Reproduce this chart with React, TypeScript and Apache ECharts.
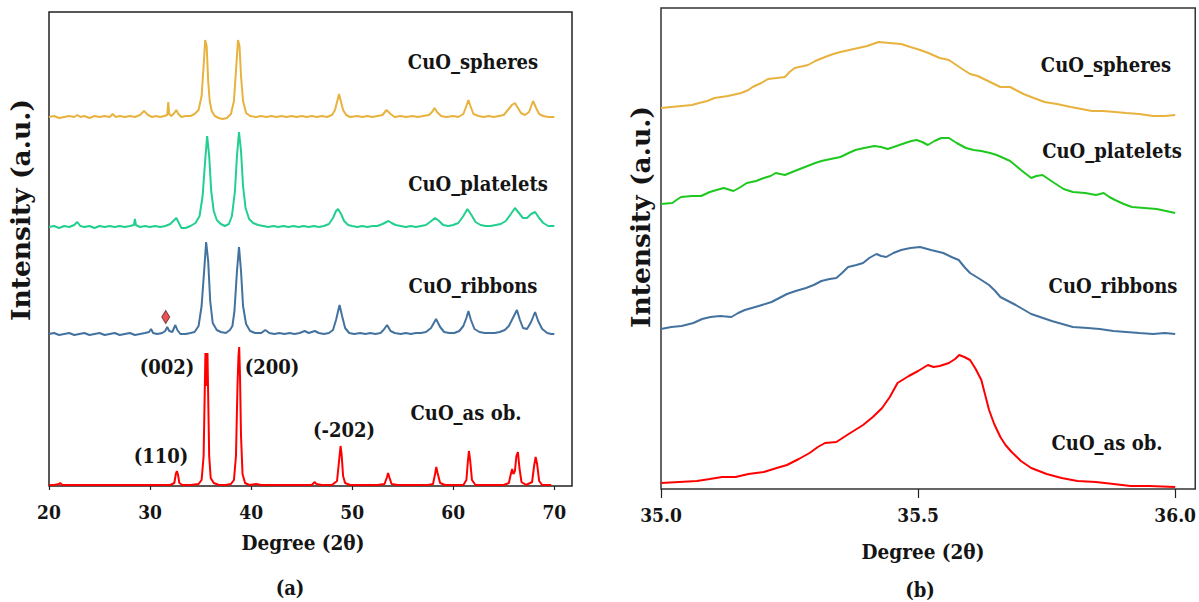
import React, { useEffect, useRef } from "react";
import * as echarts from "echarts";

type P = [number, number];

const ticksA = [20, 30, 40, 50, 60, 70];
const ticksB = [35.0, 35.5, 36.0];

const spheresA: P[] = [[20.0,369],[20.5,370],[21.0,368],[21.5,369],[22.0,370],[22.5,369],[22.8,371],[23.1,369],[23.5,370],[24.0,368],[24.5,370],[25.0,369],[25.5,370],[26.0,369],[26.3,372],[26.6,369],[27.0,370],[27.5,369],[28.0,370],[28.5,369],[29.0,371],[29.4,375],[29.8,371],[30.2,369],[30.6,370],[31.0,369],[31.4,370],[31.7,371],[31.8,384],[31.9,372],[32.1,370],[32.4,373],[32.6,376],[32.8,372],[33.1,369],[33.5,370],[34.0,370],[34.4,372],[34.8,376],[35.1,390],[35.3,420],[35.45,446],[35.6,440],[35.75,405],[35.9,385],[36.1,375],[36.4,370],[36.8,368],[37.2,367],[37.6,368],[38.0,372],[38.3,385],[38.5,415],[38.7,446],[38.85,440],[39.0,410],[39.2,385],[39.5,373],[39.9,370],[40.5,369],[41.0,370],[41.5,369],[42.0,370],[42.5,369],[43.0,370],[43.5,369],[44.0,370],[44.5,369],[45.0,370],[45.5,369],[46.0,370],[46.5,369],[47.0,370],[47.5,369],[48.0,371],[48.3,376],[48.55,386],[48.7,392],[48.85,386],[49.1,376],[49.4,371],[49.8,369],[50.5,370],[51.0,369],[51.5,370],[52.0,369],[52.5,370],[53.0,371],[53.4,376],[53.8,372],[54.2,369],[54.8,370],[55.3,369],[56.0,370],[56.5,369],[57.0,370],[57.6,371],[57.9,374],[58.15,378],[58.4,374],[58.8,370],[59.3,369],[60.0,370],[60.5,369],[61.0,372],[61.3,380],[61.5,386],[61.7,380],[62.0,372],[62.5,370],[63.0,369],[63.5,370],[64.0,369],[64.5,370],[65.0,371],[65.4,376],[65.8,381],[66.1,383],[66.4,378],[66.7,373],[67.1,371],[67.5,374],[67.9,385],[68.2,378],[68.5,372],[68.9,370],[69.4,369],[70.0,369]];

const plateletsA: P[] = [[20.0,259],[20.5,260],[21.0,258],[21.5,260],[22.0,259],[22.5,261],[22.8,264],[23.1,260],[23.5,259],[24.0,260],[24.5,258],[25.0,260],[25.5,259],[26.0,260],[26.5,259],[27.0,260],[27.5,259],[28.0,260],[28.4,261],[28.5,267],[28.6,261],[29.0,259],[29.5,260],[30.0,259],[30.5,260],[31.0,259],[31.5,260],[32.0,262],[32.4,266],[32.6,268],[32.8,264],[33.1,258],[33.5,258],[34.0,260],[34.5,263],[34.9,270],[35.2,290],[35.45,325],[35.65,350],[35.85,330],[36.05,295],[36.3,275],[36.6,266],[37.0,262],[37.4,260],[37.8,262],[38.1,270],[38.4,295],[38.6,330],[38.8,354],[39.0,335],[39.2,300],[39.45,278],[39.8,267],[40.2,263],[40.7,261],[41.2,260],[41.7,259],[42.2,260],[42.7,259],[43.2,260],[43.7,259],[44.2,260],[44.7,259],[45.2,260],[45.7,259],[46.2,260],[46.7,259],[47.2,260],[47.7,262],[48.1,268],[48.4,275],[48.6,277],[48.9,272],[49.2,265],[49.6,261],[50.0,260],[50.5,259],[51.0,260],[51.5,259],[52.0,260],[52.5,260],[53.0,262],[53.4,264],[53.6,265],[53.9,263],[54.3,261],[54.8,260],[55.3,259],[55.8,260],[56.3,259],[56.8,260],[57.3,261],[57.7,264],[58.2,268],[58.6,265],[59.0,261],[59.5,260],[60.0,261],[60.5,263],[61.0,270],[61.4,277],[61.8,271],[62.2,264],[62.7,261],[63.2,260],[63.7,260],[64.2,261],[64.7,262],[65.2,265],[65.7,272],[66.1,278],[66.5,273],[66.9,268],[67.3,268],[67.7,272],[68.1,274],[68.5,268],[68.9,263],[69.4,260],[70.0,260]];

const ribbonsA: P[] = [[20.0,152],[20.5,153],[21.0,151],[21.5,152],[22.0,153],[22.5,151],[23.0,152],[23.5,153],[24.0,151],[24.5,152],[25.0,153],[25.5,151],[26.0,152],[26.5,153],[27.0,151],[27.5,152],[28.0,153],[28.5,151],[29.0,152],[29.5,153],[29.9,154],[30.1,157],[30.3,153],[30.7,152],[31.2,153],[31.5,155],[31.7,159],[31.9,155],[32.2,154],[32.5,161],[32.7,156],[33.0,152],[33.5,152],[34.0,153],[34.4,154],[34.8,160],[35.1,180],[35.35,215],[35.55,244],[35.75,225],[35.95,185],[36.2,163],[36.6,156],[37.0,154],[37.5,153],[37.9,156],[38.15,160],[38.35,175],[38.6,215],[38.8,239],[39.0,215],[39.2,180],[39.5,162],[39.9,155],[40.4,153],[41.0,153],[41.4,156],[41.8,153],[42.3,152],[42.8,153],[43.3,152],[43.8,153],[44.3,152],[44.8,153],[45.3,155],[45.7,153],[46.3,155],[46.7,153],[47.2,152],[47.7,153],[48.1,156],[48.4,166],[48.75,181],[49.0,170],[49.3,158],[49.7,153],[50.2,152],[50.8,153],[51.3,152],[51.8,153],[52.3,152],[52.8,153],[53.1,156],[53.45,161],[53.8,155],[54.2,153],[54.8,152],[55.3,153],[55.8,152],[56.3,153],[56.8,153],[57.3,154],[57.8,158],[58.3,167],[58.7,159],[59.1,154],[59.6,153],[60.1,153],[60.6,155],[61.0,160],[61.3,168],[61.5,175],[61.75,166],[62.1,157],[62.6,154],[63.1,153],[63.6,153],[64.1,153],[64.6,154],[65.1,156],[65.5,160],[65.9,168],[66.3,176],[66.6,166],[66.9,158],[67.3,157],[67.7,164],[68.1,174],[68.4,165],[68.8,157],[69.3,153],[69.7,152],[70.0,152]];

const asObA: P[] = [[20.0,1],[20.5,1],[21.0,2],[21.1,3],[21.3,1],[22.0,1],[23.0,1],[24.0,1],[25.0,1],[26.0,1],[27.0,1],[28.0,1],[29.0,1],[30.0,1],[31.0,1],[32.0,1],[32.4,3],[32.55,12],[32.65,15],[32.75,12],[32.9,3],[33.2,1],[34.0,1],[34.8,2],[35.1,6],[35.3,30],[35.42,100],[35.48,133],[35.55,100],[35.62,110],[35.68,133],[35.75,90],[35.85,30],[36.0,8],[36.3,3],[36.8,1],[37.5,1],[38.0,2],[38.3,6],[38.5,30],[38.65,100],[38.75,130],[38.82,139],[38.9,110],[39.0,50],[39.15,12],[39.4,3],[39.8,1],[40.5,2],[41.0,1],[42.0,1],[43.0,1],[44.0,1],[45.0,1],[46.0,1],[46.2,3],[46.3,4],[46.45,2],[47.0,1],[48.0,1],[48.5,5],[48.7,25],[48.85,40],[48.95,32],[49.1,10],[49.3,3],[49.8,1],[50.5,1],[51.5,1],[52.5,1],[53.2,2],[53.45,9],[53.55,13],[53.7,8],[53.9,2],[54.5,1],[55.5,1],[56.5,1],[57.5,1],[58.0,2],[58.2,12],[58.32,19],[58.45,13],[58.7,3],[59.2,1],[60.0,1],[61.0,1],[61.3,6],[61.45,25],[61.55,35],[61.68,25],[61.85,6],[62.2,1],[63.0,1],[64.0,1],[65.0,1],[65.5,3],[65.7,12],[65.83,17],[65.95,12],[66.1,15],[66.25,30],[66.4,34],[66.55,18],[66.75,4],[67.2,1],[67.8,4],[68.0,20],[68.15,29],[68.3,22],[68.5,5],[68.8,1],[69.4,1],[69.7,1]];

const impurityA: P[] = [[31.55, 169]];

const spheresB: P[] = [[35.000,381],[35.020,382],[35.040,383],[35.060,384],[35.074,386],[35.090,388],[35.104,391],[35.130,393],[35.156,396],[35.170,399],[35.178,402],[35.195,406],[35.208,410],[35.225,411],[35.241,412],[35.250,417],[35.260,421],[35.286,424],[35.300,428],[35.319,432],[35.335,435],[35.349,437],[35.375,440],[35.401,443],[35.412,445],[35.423,447],[35.445,446],[35.467,445],[35.485,442],[35.504,439],[35.520,436],[35.542,431],[35.560,429],[35.580,422],[35.601,415],[35.616,413],[35.640,407],[35.660,402],[35.679,402],[35.690,399],[35.705,395],[35.725,391],[35.746,387],[35.770,385],[35.797,382],[35.818,380],[35.838,378],[35.860,378],[35.883,377],[35.905,376],[35.930,375],[35.957,373],[35.980,373],[36.000,374]];

const plateletsB: P[] = [[35.000,285],[35.022,286],[35.030,289],[35.039,292],[35.060,293],[35.078,293],[35.095,297],[35.108,299],[35.122,301],[35.141,298],[35.155,302],[35.167,306],[35.185,308],[35.200,311],[35.213,313],[35.223,316],[35.241,314],[35.260,318],[35.280,322],[35.300,326],[35.312,328],[35.330,330],[35.349,332],[35.365,336],[35.378,339],[35.395,341],[35.415,343],[35.428,342],[35.441,340],[35.458,343],[35.475,346],[35.487,348],[35.497,349],[35.508,347],[35.519,344],[35.532,348],[35.545,351],[35.560,351],[35.575,346],[35.593,341],[35.608,339],[35.623,338],[35.640,336],[35.653,334],[35.666,331],[35.679,328],[35.700,319],[35.720,311],[35.730,313],[35.742,314],[35.762,307],[35.783,300],[35.801,297],[35.825,296],[35.846,294],[35.861,296],[35.872,292],[35.883,289],[35.900,285],[35.916,282],[35.940,281],[35.964,280],[35.982,278],[36.000,276]];

const ribbonsB: P[] = [[35.000,160],[35.020,162],[35.040,163],[35.063,166],[35.080,170],[35.096,172],[35.115,173],[35.137,172],[35.150,176],[35.163,179],[35.190,183],[35.215,187],[35.230,191],[35.245,195],[35.262,198],[35.282,201],[35.297,204],[35.312,208],[35.328,210],[35.341,211],[35.352,216],[35.364,222],[35.380,224],[35.393,226],[35.405,231],[35.419,235],[35.428,233],[35.438,232],[35.452,236],[35.467,239],[35.485,241],[35.504,242],[35.525,239],[35.549,236],[35.565,232],[35.579,229],[35.590,222],[35.601,216],[35.620,210],[35.638,204],[35.650,198],[35.660,192],[35.690,184],[35.720,175],[35.760,168],[35.801,162],[35.830,161],[35.853,160],[35.880,158],[35.905,157],[35.930,156],[35.957,155],[35.980,156],[36.000,155]];

const asObB: P[] = [[35.000,6],[35.035,7],[35.070,8],[35.095,10],[35.119,12],[35.145,12],[35.170,15],[35.200,17],[35.225,21],[35.245,24],[35.268,30],[35.289,36],[35.305,42],[35.319,46],[35.341,47],[35.365,55],[35.393,64],[35.412,72],[35.430,81],[35.445,92],[35.460,106],[35.482,113],[35.500,118],[35.519,124],[35.530,122],[35.542,123],[35.560,126],[35.572,130],[35.580,134],[35.590,132],[35.601,129],[35.612,120],[35.623,109],[35.630,95],[35.638,79],[35.648,65],[35.660,52],[35.670,44],[35.682,37],[35.700,28],[35.720,21],[35.750,15],[35.779,11],[35.810,8],[35.846,7],[35.880,5],[35.913,3],[35.950,3],[36.000,2]];

const FONT = "'DejaVu Serif Condensed', 'Liberation Serif', serif";
const FONT_WIDE = "'DejaVu Serif', serif";
const INK = "#141414";

export default function App() {
  const ref = useRef<HTMLDivElement>(null);
  useEffect(() => {
    const chart = echarts.init(ref.current!, null, { renderer: "svg" });
    const txt = (x: number, y: number, text: string, size = 20, rotation = 0, family = FONT) => ({
      type: "text",
      x,
      y,
      rotation,
      z: 100,
      style: {
        text,
        fill: INK,
        fontFamily: family,
        fontWeight: "bold",
        fontSize: size,
        textAlign: "center",
        textVerticalAlign: "middle",
      },
    });
    const line = (data: P[], color: string, idx: number) => ({
      type: "line",
      data,
      xAxisIndex: idx,
      yAxisIndex: idx,
      showSymbol: false,
      symbol: "none",
      lineStyle: { color, width: 2 },
      itemStyle: { color },
      z: 3,
    });
    const xAxisBase = (idx: number, min: number, max: number, ticks: number[], tickLen: number, fmt: (v: number) => string) => ({
      type: "value",
      gridIndex: idx,
      min,
      max,
      axisLine: { show: false },
      splitLine: { show: false },
      axisTick: { show: true, customValues: ticks, length: tickLen, lineStyle: { color: "#222", width: 1.2 } },
      axisLabel: {
        customValues: ticks,
        formatter: fmt,
        color: INK,
        fontFamily: FONT,
        fontWeight: "bold",
        fontSize: 19,
        margin: 16,
      },
    });
    chart.setOption({
      animation: false,
      backgroundColor: "#ffffff",
      grid: [
        { left: 49, top: 12, width: 523, height: 474, show: true, borderColor: "#222", borderWidth: 1.5, backgroundColor: "transparent" },
        { left: 661, top: 8, width: 535, height: 481, show: true, borderColor: "#333", borderWidth: 1.5, backgroundColor: "transparent" },
      ],
      xAxis: [
        xAxisBase(0, 20, 71.75, ticksA, 4, (v: number) => String(Math.round(v))),
        xAxisBase(1, 35, 36.039, ticksB, 9, (v: number) => v.toFixed(1)),
      ],
      yAxis: [
        { type: "value", gridIndex: 0, min: 0, max: 474, show: false },
        { type: "value", gridIndex: 1, min: 0, max: 481, show: false },
      ],
      series: [
        line(spheresA, "#E8B23E", 0),
        line(plateletsA, "#22CF8F", 0),
        line(ribbonsA, "#44729F", 0),
        line(asObA, "#FF0000", 0),
        {
          type: "scatter",
          data: impurityA,
          xAxisIndex: 0,
          yAxisIndex: 0,
          symbol: "diamond",
          symbolSize: [8, 13],
          itemStyle: { color: "#E8262A", borderColor: "#5a2a2a", borderWidth: 1 },
          z: 5,
        },
        line(spheresB, "#E8B23E", 1),
        line(plateletsB, "#1FC81F", 1),
        line(ribbonsB, "#44729F", 1),
        line(asObB, "#FF0000", 1),
      ],
      graphic: [
        txt(473, 62, "CuO_spheres"),
        txt(478, 184, "CuO_platelets"),
        txt(473, 286, "CuO_ribbons"),
        txt(466, 413, "CuO_as ob."),
        txt(167, 367, "(002)"),
        txt(272, 367, "(200)"),
        txt(344, 430, "(-202)"),
        txt(161, 456, "(110)"),
        txt(303, 543, "Degree (2θ)", 20.5),
        txt(290, 588, "(a)"),
        txt(20, 210, "Intensity (a.u.)", 26.5, Math.PI / 2, FONT_WIDE),
        txt(1106, 65, "CuO_spheres"),
        txt(1112, 151, "CuO_platelets"),
        txt(1113, 286, "CuO_ribbons"),
        txt(1107, 443, "CuO_as ob."),
        txt(923, 552, "Degree (2θ)", 20.5),
        txt(920, 590, "(b)"),
        txt(640, 217, "Intensity (a.u.)", 26.5, Math.PI / 2, FONT_WIDE),
      ],
    });
    return () => chart.dispose();
  }, []);
  return (
    <div
      ref={ref}
      style={{ position: "fixed", left: 0, top: 0, width: 1199, height: 602, background: "#fff" }}
    />
  );
}
